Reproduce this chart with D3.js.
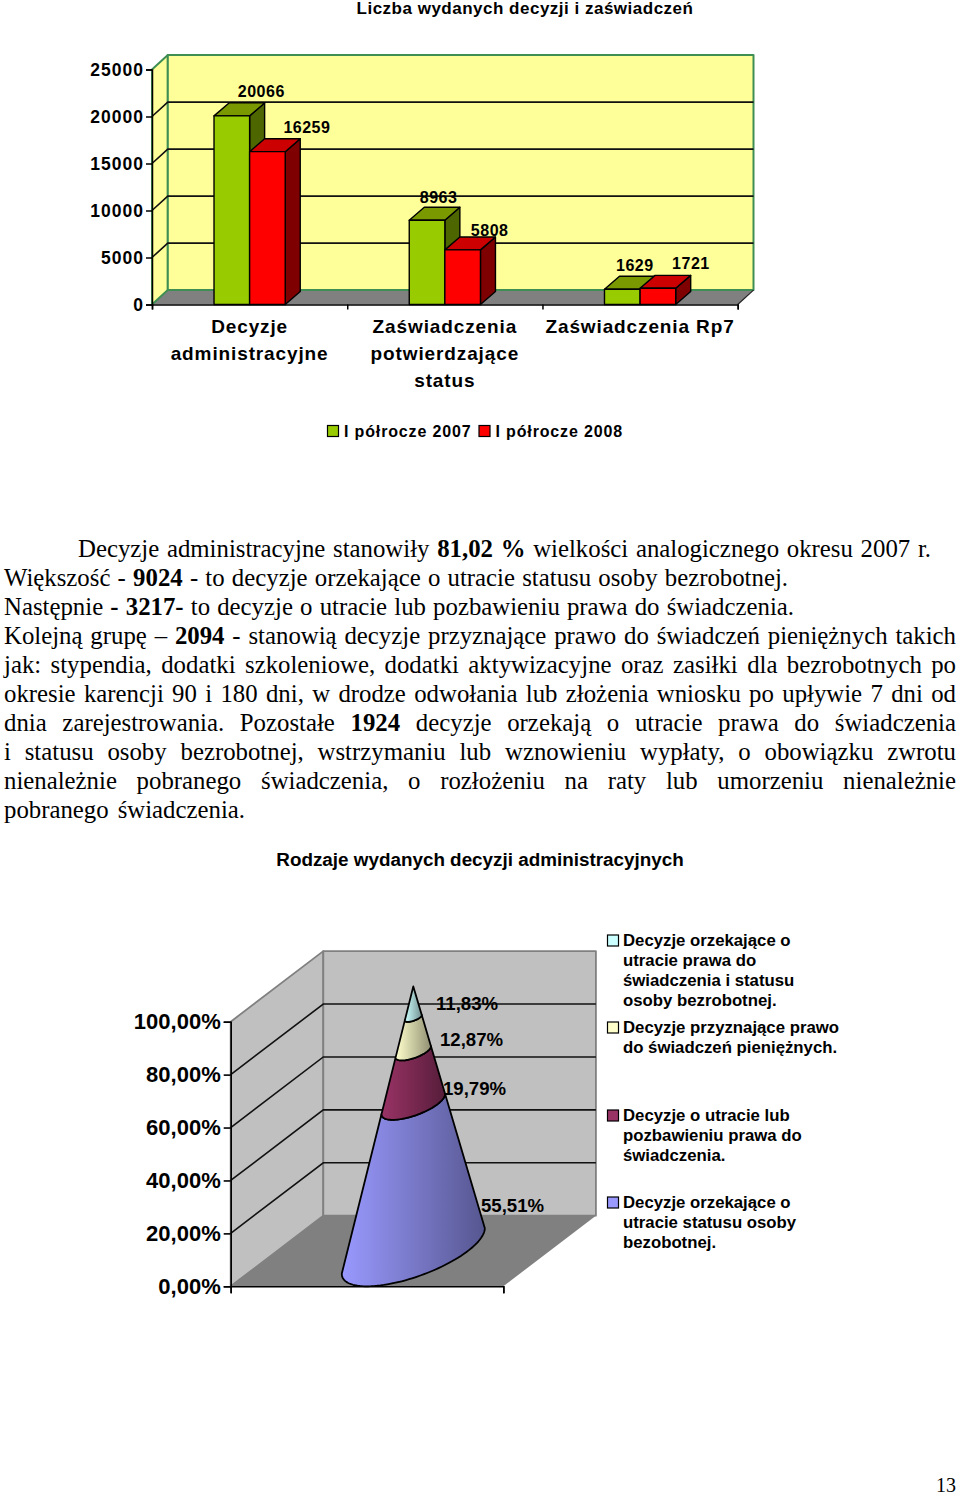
<!DOCTYPE html>
<html>
<head>
<meta charset="utf-8">
<title>Decyzje</title>
<script src="https://cdn.jsdelivr.net/npm/d3@7"></script>
<style>
  body { margin: 0; background: #fff; }
  svg { display: block; }
  text { fill: #000; }
  .sans { font-family: "Liberation Sans", Arial, sans-serif; font-weight: bold; }
  .serif { font-family: "Liberation Serif", "Times New Roman", serif; }
</style>
</head>
<body>
<svg id="page" width="960" height="1496"></svg>
<script>
// ---- data, first chart
var barCategories = [["Decyzje", "administracyjne"], ["Zaświadczenia", "potwierdzające", "status"], ["Zaświadczenia Rp7"]];
var barSeries = ["I półrocze 2007", "I półrocze 2008"];
var values2007 = [20066, 8963, 1629];
var values2008 = [16259, 5808, 1721];
var barTicks = [0, 5000, 10000, 15000, 20000, 25000];

// ---- data, cone chart (top slice first, same order as its legend)
var coneValues = [11.83, 12.87, 19.79, 55.51];
var coneLabels = ["11,83%", "12,87%", "19,79%", "55,51%"];
var coneTicks = [0, 20, 40, 60, 80, 100];
var coneLegend = [
  ["Decyzje orzekające o", "utracie prawa do", "świadczenia i statusu", "osoby bezrobotnej."],
  ["Decyzje przyznające prawo", "do świadczeń pieniężnych."],
  ["Decyzje o utracie lub", "pozbawieniu prawa do", "świadczenia."],
  ["Decyzje orzekające o", "utracie statusu osoby", "bezobotnej."]
];

// ---- text between the charts, ** marks bold
var bodyLines = [
  "Decyzje administracyjne stanowiły **81,02 %** wielkości analogicznego okresu 2007 r.",
  "Większość - **9024** - to decyzje orzekające o utracie statusu osoby bezrobotnej.",
  "Następnie **- 3217-** to decyzje o utracie lub pozbawieniu prawa do świadczenia.",
  "Kolejną grupę – **2094** - stanowią decyzje przyznające prawo do świadczeń pieniężnych takich",
  "jak: stypendia, dodatki szkoleniowe, dodatki aktywizacyjne oraz zasiłki dla bezrobotnych po",
  "okresie karencji 90 i 180 dni, w drodze odwołania lub złożenia wniosku po upływie 7 dni od",
  "dnia zarejestrowania. Pozostałe **1924** decyzje orzekają o utracie prawa do świadczenia",
  "i statusu osoby bezrobotnej, wstrzymaniu lub wznowieniu wypłaty, o obowiązku zwrotu",
  "nienależnie pobranego świadczenia, o rozłożeniu na raty lub umorzeniu nienależnie",
  "pobranego świadczenia."
];

var svg = d3.select("#page");
var defs = svg.append("defs");

function poly(g, pts, fill, stroke, sw) {
  return g.append("polygon")
    .attr("points", pts.map(function (p) { return p.join(","); }).join(" "))
    .attr("fill", fill)
    .attr("stroke", stroke || "none")
    .attr("stroke-width", sw || 0)
    .attr("stroke-linejoin", "round");
}

function label(g, str, x, y, size, anchor, spacing) {
  return g.append("text")
    .attr("class", "sans")
    .attr("x", x)
    .attr("y", y)
    .attr("font-size", size)
    .attr("text-anchor", anchor || "start")
    .attr("letter-spacing", spacing || 0)
    .text(str);
}

// ---------------- bar chart
function drawBars() {
  var g = svg.append("g");
  var left = 152, right = 737.7, depthX = 15.8, depthY = 14.4;

  var y = d3.scaleLinear().domain([0, 25000]).range([304.5, 69.5]);
  var x0 = d3.scaleBand().domain(d3.range(barCategories.length)).range([left, right]);
  var x1 = d3.scaleBand().domain(barSeries)
    .range([x0.bandwidth() / 2 - 35.6, x0.bandwidth() / 2 + 35.6]);
  var edge = d3.scaleLinear().domain([0, barCategories.length]).range([left, right]);

  var wallTop = y(25000), wallBottom = y(0);

  // floor first so the green wall edges stay on top of it
  poly(g, [[left, wallBottom], [right, wallBottom], [right + depthX, wallBottom - depthY], [left + depthX, wallBottom - depthY]],
    "#808080");
  poly(g, [[left, wallBottom], [left + depthX, wallBottom - depthY], [left + depthX, wallTop - depthY], [left, wallTop]],
    "#ffff99", "#3f8f55", 2);
  poly(g, [[left + depthX, wallBottom - depthY], [right + depthX, wallBottom - depthY], [right + depthX, wallTop - depthY], [left + depthX, wallTop - depthY]],
    "#ffff99", "#3f8f55", 2);

  barTicks.slice(1, -1).forEach(function (t) {
    g.append("polyline")
      .attr("points", [[left, y(t)], [left + depthX, y(t) - depthY], [right + depthX, y(t) - depthY]].join(" "))
      .attr("fill", "none")
      .attr("stroke", "#111")
      .attr("stroke-width", 1.6);
  });

  // right floor edge, wall stroke covers nothing there
  g.append("line")
    .attr("x1", right).attr("y1", wallBottom)
    .attr("x2", right + depthX).attr("y2", wallBottom - depthY)
    .attr("stroke", "#222").attr("stroke-width", 1.2);

  // bars, front plane sits on the axis
  var seriesValues = [values2007, values2008];
  var seriesColors = [
    { front: "#99cc00", top: "#7a9900", side: "#4d6600" },
    { front: "#ff0000", top: "#cc0000", side: "#7f0000" }
  ];
  var bw = x1.bandwidth(), bdx = depthX * 0.95, bdy = depthY * 0.9;

  barCategories.forEach(function (cat, c) {
    barSeries.forEach(function (s, k) {
      var v = seriesValues[k][c];
      var xa = x0(c) + x1(s), xb = xa + bw, yt = y(v), yb = y(0);
      var col = seriesColors[k];
      poly(g, [[xb, yb], [xb + bdx, yb - bdy], [xb + bdx, yt - bdy], [xb, yt]], col.side, "#000", 1.4);
      poly(g, [[xa, yt], [xb, yt], [xb + bdx, yt - bdy], [xa + bdx, yt - bdy]], col.top, "#000", 1.4);
      poly(g, [[xa, yb], [xb, yb], [xb, yt], [xa, yt]], col.front, "#000", 1.4);
    });
  });

  // axes
  var yAxis = d3.axisLeft(y).tickValues(barTicks).tickSize(6).tickFormat(d3.format("d"));
  var yg = g.append("g").attr("transform", "translate(" + left + ",0)").call(yAxis);
  yg.selectAll("path,line").attr("stroke", "#000").attr("stroke-width", 1.5);
  yg.selectAll("text")
    .attr("class", "sans")
    .attr("font-size", 17.5)
    .attr("letter-spacing", 1)
    .attr("x", -8)
    .attr("fill", "#000");

  var xAxis = d3.axisBottom(edge).tickValues(d3.range(barCategories.length + 1)).tickSize(5).tickFormat("");
  var xg = g.append("g").attr("transform", "translate(0," + y(0) + ")").call(xAxis);
  xg.selectAll("path,line").attr("stroke", "#000").attr("stroke-width", 1.5);

  // value labels sit where the original chart left them, not evenly
  var nudges = [[[29.5, -19], [39.5, -18.8]], [[11.5, -17.3], [27, -14]], [[12.5, -18.2], [33, -19.3]]];
  barCategories.forEach(function (cat, c) {
    barSeries.forEach(function (s, k) {
      var v = seriesValues[k][c];
      var cx = x0(c) + x1(s) + bw / 2;
      label(g, v, cx + nudges[c][k][0], y(v) + nudges[c][k][1], 16, "middle", 0.5);
    });
  });

  // category labels
  barCategories.forEach(function (lines, c) {
    lines.forEach(function (line, i) {
      label(g, line, x0(c) + x0.bandwidth() / 2, 333 + i * 27, 19, "middle", 0.88);
    });
  });

  // legend
  var legendX = [327.5, 479], swatch = 11;
  barSeries.forEach(function (s, k) {
    g.append("rect")
      .attr("x", legendX[k]).attr("y", 425.5)
      .attr("width", swatch).attr("height", swatch)
      .attr("fill", seriesColors[k].front)
      .attr("stroke", "#000").attr("stroke-width", 1.2);
    label(g, s, legendX[k] + 16.5, 437, 16, "start", 0.85);
  });
}

// ---------------- paragraph
function drawBody() {
  var g = svg.append("g");
  var lineY = d3.scaleLinear().domain([0, bodyLines.length - 1]).range([557, 817.6]);
  // start and end of each line, most are justified
  var spans = [[78, 931], [4, 788], [4, 794], [4, 956], [4, 956], [4, 956], [4, 956], [4, 956], [4, 956], [4, 245]];

  bodyLines.forEach(function (line, i) {
    var t = g.append("text")
      .attr("class", "serif")
      .attr("x", spans[i][0])
      .attr("y", lineY(i))
      .attr("font-size", 24.8);
    line.split("**").forEach(function (part, j) {
      t.append("tspan").attr("font-weight", j % 2 ? "bold" : "normal").text(part);
    });
    var gaps = line.split(" ").length - 1;
    var extra = (spans[i][1] - spans[i][0] - t.node().getComputedTextLength()) / gaps;
    t.attr("word-spacing", extra);
  });
}

// ---------------- cone chart
function drawCone() {
  var g = svg.append("g");
  var depthX = 92.6, depthY = 70.6;

  var x = d3.scaleLinear().domain([0, 1]).range([230.7, 503.3]);
  var y = d3.scaleLinear().domain([0, 100]).range([1286.3, 1021.7]);

  // u across the floor, pct up, d into the depth
  function project(u, pct, d) {
    return [x(u) + d * depthX, y(pct) - d * depthY];
  }

  poly(g, [project(0, 0, 0), project(0, 0, 1), project(0, 100, 1), project(0, 100, 0)], "#c0c0c0", "#808080", 1.8);
  poly(g, [project(0, 0, 1), project(1, 0, 1), project(1, 100, 1), project(0, 100, 1)], "#c0c0c0", "#808080", 1.8);
  poly(g, [project(0, 0, 0), project(1, 0, 0), project(1, 0, 1), project(0, 0, 1)], "#808080");

  coneTicks.slice(1, -1).forEach(function (t) {
    g.append("polyline")
      .attr("points", [project(0, t, 0), project(0, t, 1), project(1, t, 1)].join(" "))
      .attr("fill", "none")
      .attr("stroke", "#111")
      .attr("stroke-width", 1.6);
  });

  var coneColors = ["#ccffff", "#ffffcc", "#993366", "#9999ff"];

  // base is a circle lying on the floor
  var apex = project(0.5, 100, 0.5);
  var radiusU = 0.2, radiusD = 0.5;
  var thetaStart = 40 * Math.PI / 180, thetaEnd = -140 * Math.PI / 180;
  var thetas = d3.range(0, 61).map(function (i) {
    return thetaStart + (thetaEnd - thetaStart) * i / 60;
  });

  function arcAt(pct) {
    var s = 1 - pct / 100;
    return thetas.map(function (th) {
      var p = project(0.5 + radiusU * Math.cos(th), 0, 0.5 + radiusD * Math.sin(th));
      return [apex[0] + s * (p[0] - apex[0]), apex[1] + s * (p[1] - apex[1])];
    });
  }

  var outline = d3.line();
  var lower = 0;
  d3.range(coneValues.length - 1, -1, -1).forEach(function (k) {
    var upper = lower + coneValues[k];
    var grad = defs.append("linearGradient").attr("id", "coneFill" + k);
    grad.append("stop").attr("offset", "0%").attr("stop-color", coneColors[k]);
    grad.append("stop").attr("offset", "45%").attr("stop-color", d3.rgb(coneColors[k]).darker(0.6));
    grad.append("stop").attr("offset", "100%").attr("stop-color", d3.rgb(coneColors[k]).darker(1.6));

    g.append("path")
      .attr("d", outline(arcAt(lower).concat(arcAt(upper).reverse())) + "Z")
      .attr("fill", "url(#coneFill" + k + ")")
      .attr("stroke", "#000")
      .attr("stroke-width", 1.8)
      .attr("stroke-linejoin", "round");
    lower = upper;
  });

  // axes
  var yAxis = d3.axisLeft(y).tickValues(coneTicks).tickSize(7)
    .tickFormat(function (d) { return d3.format(".2f")(d).replace(".", ",") + "%"; });
  var yg = g.append("g").attr("transform", "translate(" + x(0) + ",0)").call(yAxis);
  yg.selectAll("path,line").attr("stroke", "#000").attr("stroke-width", 1.6);
  yg.selectAll("text")
    .attr("class", "sans")
    .attr("font-size", 22)
    .attr("x", -10)
    .attr("fill", "#000");

  var xAxis = d3.axisBottom(x).tickValues([0, 1]).tickSize(7).tickFormat("");
  var xg = g.append("g").attr("transform", "translate(0," + y(0) + ")").call(xAxis);
  xg.selectAll("path,line").attr("stroke", "#000").attr("stroke-width", 1.6);

  // data labels
  var labelPos = [[436, 1010], [440, 1046], [443, 1095], [481, 1212]];
  coneLabels.forEach(function (s, k) {
    label(g, s, labelPos[k][0], labelPos[k][1], 18.6);
  });

  // legend
  var legendY = [946, 1033, 1121, 1208];
  coneLegend.forEach(function (lines, k) {
    g.append("rect")
      .attr("x", 607.5).attr("y", legendY[k] - 11)
      .attr("width", 11).attr("height", 11)
      .attr("fill", coneColors[k])
      .attr("stroke", "#000").attr("stroke-width", 1.2);
    lines.forEach(function (line, i) {
      label(g, line, 623, legendY[k] + i * 20, 16.75);
    });
  });
}

label(svg, "Liczba wydanych decyzji i zaświadczeń", 525, 14, 17, "middle", 0.5);
drawBars();
drawBody();
label(svg, "Rodzaje wydanych decyzji administracyjnych", 480, 866, 18.85, "middle");
drawCone();

svg.append("text")
  .attr("class", "serif")
  .attr("x", 956)
  .attr("y", 1491.5)
  .attr("text-anchor", "end")
  .attr("font-size", 20)
  .text("13");
</script>
</body>
</html>
